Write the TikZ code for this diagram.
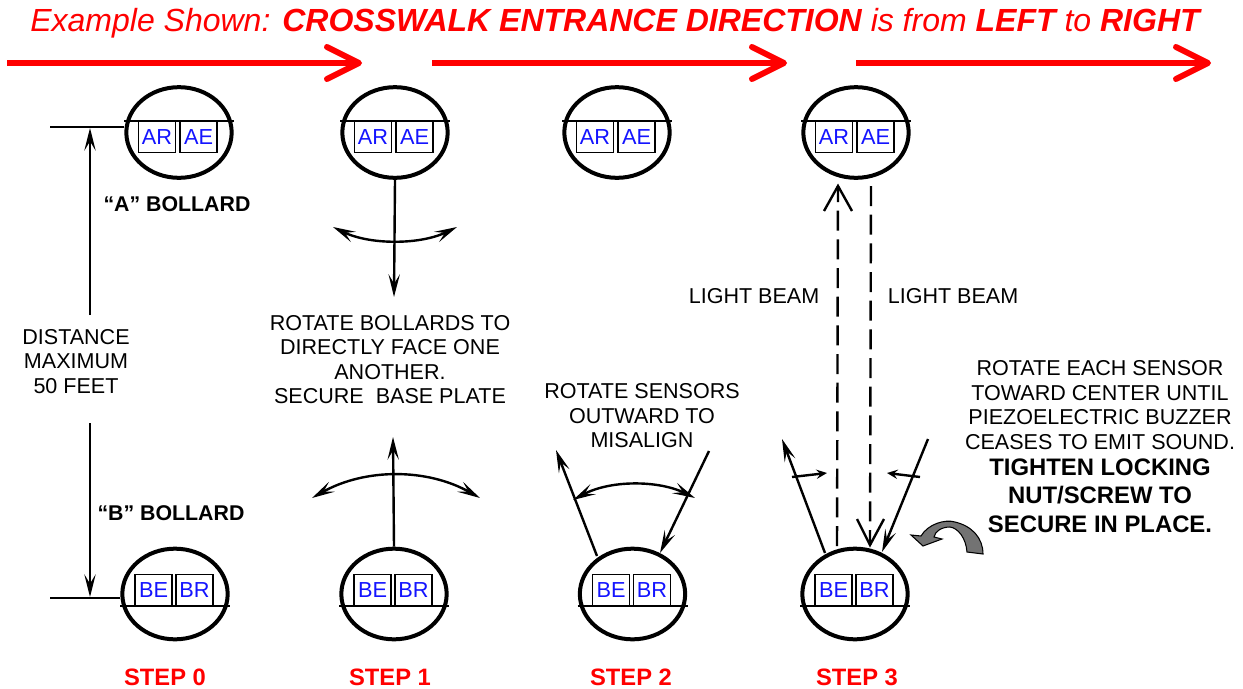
\documentclass[tikz,border=0pt]{standalone}
\usepackage{fontspec}
\setmainfont{Liberation Sans}
\usetikzlibrary{arrows.meta,shapes.geometric}
\definecolor{beamred}{RGB}{255,0,0}
\definecolor{sensorblue}{RGB}{20,20,255}
\begin{document}
\begin{tikzpicture}%
	[
	x=0.75pt,
	y=-0.75pt,
	raytip/.tip={Stealth[length=17pt,width=8.5pt,inset=7pt]},
	bollard/.style={draw=black,ellipse,line width=3pt,minimum width=79pt,minimum height=68pt,inner sep=0pt},
	sensor/.style={draw=black,line width=1.2pt,fill=white,minimum width=28pt,minimum height=23.5pt,inner sep=0pt,text=sensorblue,font=\fontsize{16.3}{18}\selectfont},
	plate/.style={draw=black,line width=1.2pt},
	flow/.style={draw=beamred,line width=4.5pt,-{Straight Barb[length=24pt,width=24pt,round]}},
	ray/.style={draw=black,line width=1.8pt,-raytip},
	swing/.style={draw=black,line width=1.8pt,raytip-raytip},
	nudge/.style={draw=black,line width=1.8pt,-{Stealth[length=8pt,width=7pt,inset=3pt]}},
	beam/.style={draw=black,line width=1.8pt,dash pattern=on 15pt off 6.5pt},
	barb/.style={draw=black,line width=1.8pt},
	note/.style={align=center,inner sep=0pt,font=\fontsize{16.15}{18.4}\selectfont},
	boldnote/.style={align=center,inner sep=0pt,font=\fontsize{17.9}{21.5}\selectfont\bfseries},
	bollardname/.style={inner sep=0pt,font=\fontsize{16}{18}\selectfont\bfseries},
	steplabel/.style={inner sep=0pt,text=beamred,font=\fontsize{17.8}{20}\selectfont\bfseries}]

\useasboundingbox (0,0) rectangle (1243,689);

% title and direction arrows
\node[inner sep=0pt,text=beamred,font=\fontsize{24}{28}\selectfont\itshape] (title) at (615,23)
	{Example Shown: \textbf{CROSSWALK ENTRANCE DIRECTION} is from \textbf{LEFT} to \textbf{RIGHT}};
\coordinate (flow1a) at (7,63);
\coordinate (flow1b) at (362,63);
\coordinate (flow2a) at (432,63);
\coordinate (flow2b) at (787,63);
\coordinate (flow3a) at (856,63);
\coordinate (flow3b) at (1211,63);
\draw[flow] (flow1a) -- (flow1b);
\draw[flow] (flow2a) -- (flow2b);
\draw[flow] (flow3a) -- (flow3b);

% A bollards
\foreach \name/\cx in {a0/179,a1/395,a2/617,a3/856}{
	\node[bollard] (\name) at (\cx,132.5) {};
	\draw[plate] (\cx-55,121) -- (\cx+55,121);
	\node[sensor] (\name r) at (\cx-22,137) {AR};
	\node[sensor] (\name e) at (\cx+19.5,137) {AE};
}

% B bollards
\foreach \name/\cx in {b0/175,b1/394,b2/632.5,b3/855}{
	\node[bollard] (\name) at (\cx,594) {};
	\draw[plate] (\cx-55,606) -- (\cx+55,606);
	\node[sensor] (\name e) at (\cx-21.5,590) {BE};
	\node[sensor] (\name r) at (\cx+19.5,590) {BR};
}

% step 0
\node[note] (dist) at (76,361.5) {DISTANCE\\MAXIMUM\\50 FEET};
\coordinate (tickA) at (50,127);
\coordinate (tickB) at (50,598);
\coordinate (dimA) at (90,128);
\coordinate (dimB) at (90,597);
\coordinate (dimAend) at (90,315);
\coordinate (dimBend) at (90,423);
\draw[plate] (tickA) -- (a0.west |- tickA);
\draw[plate] (tickB) -- (b0.west |- tickB);
\draw[ray] (dimAend) -- (dimA);
\draw[ray] (dimBend) -- (dimB);
\node[bollardname] (labelA) at (177,204.5) {“A” BOLLARD};
\node[bollardname] (labelB) at (171,513.5) {“B” BOLLARD};
\node[steplabel] (step0) at (165,677) {STEP 0};

% step 1
\coordinate (tipA1) at (394,297);
\coordinate (tipB1) at (393,437);
\coordinate (arcA1l) at (333,227);
\coordinate (arcA1r) at (457,227);
\coordinate (arcB1l) at (312,498);
\coordinate (arcB1r) at (480,498);
\draw[ray] (a1.south) -- (tipA1);
\draw[ray] (b1.north) -- (tipB1);
\draw[swing] (arcA1l) .. controls (370,245) and (420,245) .. (arcA1r);
\draw[swing] (arcB1l) .. controls (365,468) and (427,468) .. (arcB1r);
\node[note] (rotate1) at (390,359.5) {ROTATE BOLLARDS TO\\DIRECTLY FACE ONE\\ANOTHER.\\SECURE\ \ BASE PLATE};
\node[steplabel] (step1) at (390,677) {STEP 1};

% step 2
\coordinate (ray2a) at (597,556);
\coordinate (ray2b) at (556,450);
\coordinate (ray2c) at (709,451);
\coordinate (ray2d) at (660,553);
\coordinate (arc2l) at (573,500);
\coordinate (arc2r) at (695,498);
\draw[ray] (ray2a) -- (ray2b);
\draw[ray] (ray2c) -- (ray2d);
\draw[swing] (arc2l) .. controls (610,480) and (658,480) .. (arc2r);
\node[note] (rotate2) at (642,416) {ROTATE SENSORS\\OUTWARD TO\\MISALIGN};
\node[steplabel] (step2) at (631,677) {STEP 2};

% step 3
\coordinate (ray3a) at (825,553);
\coordinate (ray3b) at (782,439);
\coordinate (ray3c) at (928,439);
\coordinate (ray3d) at (882,552);
\coordinate (nudge1a) at (792,477);
\coordinate (nudge1b) at (827,473);
\coordinate (nudge2a) at (920,477);
\coordinate (nudge2b) at (887,473);
\draw[ray] (ray3a) -- (ray3b);
\draw[ray] (ray3c) -- (ray3d);
\draw[nudge] (nudge1a) -- (nudge1b);
\draw[nudge] (nudge2a) -- (nudge2b);

\coordinate (upfoot) at (837,546);
\coordinate (uptip) at (838,186);
\coordinate (downfoot) at (871,186);
\coordinate (downtip) at (870,545);
\draw[beam] (upfoot) -- (uptip);
\draw[beam] (downfoot) -- (downtip);
\draw[barb] (824,211) -- (uptip) -- (852,211);
\draw[barb] (857,519) -- (downtip) -- (884,519);

\node[note] (beamL) at (754,296.5) {LIGHT BEAM};
\node[note] (beamR) at (953,296.5) {LIGHT BEAM};
\node[note] (rotate3) at (1100,405) {ROTATE EACH SENSOR\\TOWARD CENTER UNTIL\\PIEZOELECTRIC BUZZER\\CEASES TO EMIT SOUND.};
\node[boldnote] (tighten) at (1100,495.5) {TIGHTEN LOCKING\\NUT/SCREW TO\\SECURE IN PLACE.};
\node[steplabel] (step3) at (857,677) {STEP 3};

% turning arrow
\draw[draw=black,line width=0.8pt,fill=black!55] (911,535) -- (921,536)
	.. controls (928,524) and (945,519) .. (955,522)
	.. controls (972,526) and (983,538) .. (983,554)
	-- (967,552)
	.. controls (966,538) and (958,528) .. (950,527)
	.. controls (942,527) and (935,531) .. (934,537)
	-- (942,539) -- (923,546) -- cycle;
\end{tikzpicture}
\end{document}
